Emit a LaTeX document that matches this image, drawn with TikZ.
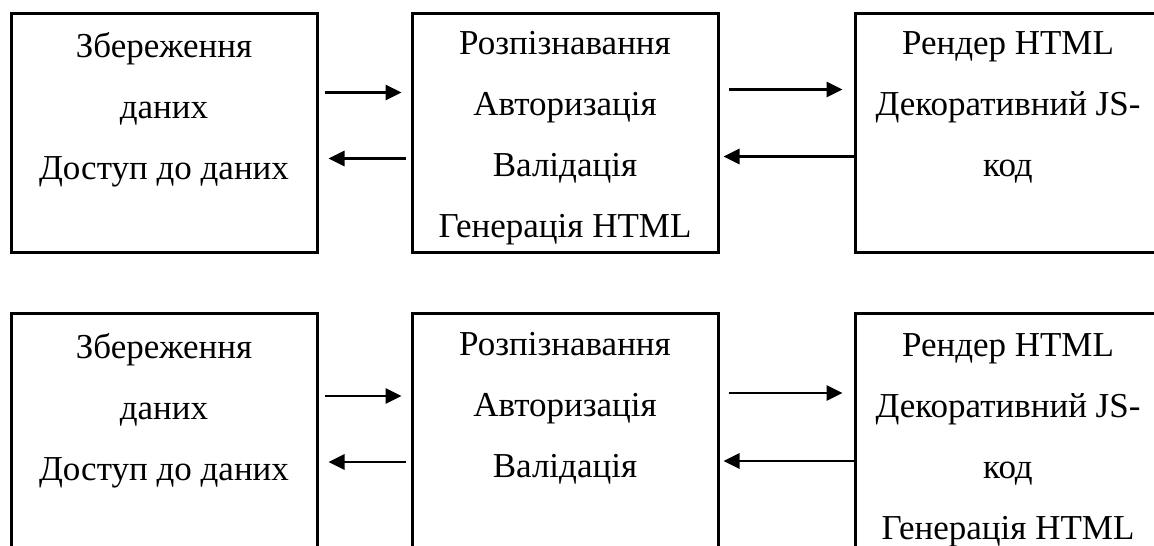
\documentclass[tikz,border=0pt]{standalone}
\usepackage{fontspec}
\setmainfont{Liberation Serif}
\usetikzlibrary{arrows.meta}

\tikzset{
  blk/.style={draw, line width=3pt, minimum width=306pt, minimum height=239pt},
  txt/.style={align=center, inner sep=0pt, anchor=north, font=\fontsize{35}{61}\selectfont},
  flow/.style={-{Triangle[length=16pt,width=15pt]}, line width=2.8pt}
}

\begin{document}
\begin{tikzpicture}[x=1pt,y=-1pt]
    \useasboundingbox (0,0) rectangle (1154,546);
    \clip (0,0) rectangle (1154,546);
    % top row
    \node[blk] (storeA) at (164,132.5) {};
    \node[blk] (logicA) at (565,132.5) {};
    \node[blk] (viewA) at (1008,132.5) {};
    \node[txt] (storeAt) at ([yshift=-21pt]storeA.north) {Збереження\\даних\\Доступ до даних};
    \node[txt] (logicAt) at ([yshift=-20pt]logicA.north) {Розпізнавання\\Авторизація\\Валідація\\Генерація HTML};
    \node[txt] (viewAt) at ([yshift=-20pt]viewA.north) {Рендер HTML\\Декоративний JS-\\код};
    \draw[flow] ([xshift=6pt,yshift=40pt]storeA.east) -- ([xshift=-9pt,yshift=40pt]logicA.west);
    \draw[flow] ([xshift=-5pt,yshift=-26pt]logicA.west) -- ([xshift=10pt,yshift=-26pt]storeA.east);
    \draw[flow] ([xshift=9pt,yshift=43pt]logicA.east) -- ([xshift=-11pt,yshift=43pt]viewA.west);
    \draw[flow] ([yshift=-24pt]viewA.west) -- ([xshift=4pt,yshift=-24pt]logicA.east);
    % bottom row
    \node[blk] (storeB) at (164,433) {};
    \node[blk] (logicB) at (565,433) {};
    \node[blk] (viewB) at (1008,433) {};
    \node[txt] (storeBt) at ([yshift=-21pt]storeB.north) {Збереження\\даних\\Доступ до даних};
    \node[txt] (logicBt) at ([yshift=-20pt]logicB.north) {Розпізнавання\\Авторизація\\Валідація};
    \node[txt] (viewBt) at ([yshift=-21pt]viewB.north) {Рендер HTML\\Декоративний JS-\\код\\Генерація HTML};
    \draw[flow] ([xshift=6pt,yshift=37pt]storeB.east) -- ([xshift=-9pt,yshift=37pt]logicB.west);
    \draw[flow] ([xshift=-5pt,yshift=-29pt]logicB.west) -- ([xshift=10pt,yshift=-29pt]storeB.east);
    \draw[flow] ([xshift=9pt,yshift=40pt]logicB.east) -- ([xshift=-11pt,yshift=40pt]viewB.west);
    \draw[flow] ([yshift=-28pt]viewB.west) -- ([xshift=4pt,yshift=-28pt]logicB.east);
\end{tikzpicture}
\end{document}
